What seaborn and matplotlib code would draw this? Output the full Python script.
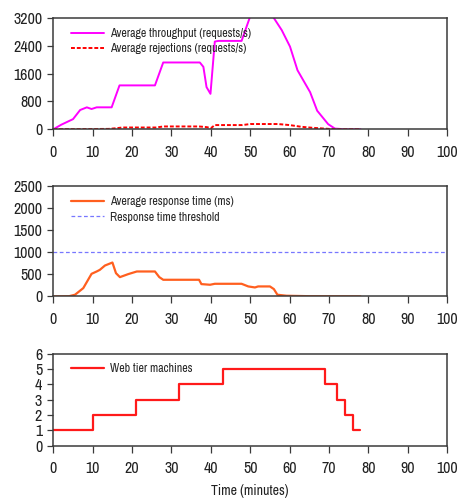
import numpy as np
import pandas as pd
import matplotlib
matplotlib.use("Agg")
import matplotlib.pyplot as plt
import seaborn as sns

# ---- data ----
thr_t = [0, 2, 5, 6.8, 8.5, 9.7, 11, 14.8, 16.8, 25.8, 27.9, 37.2, 38.1, 38.9, 39.9,
         41, 41.9, 47.8, 50, 53, 55.7, 58, 60.1, 62, 65.2, 67, 69.8, 71.5, 74, 78]
thr_v = [0, 130, 291, 553, 630, 582, 630, 630, 1261, 1261, 1920, 1920, 1794, 1212, 1018,
         2521, 2540, 2540, 3250, 3550, 3250, 2850, 2376, 1697, 1067, 533, 145, 19, 0, 0]

rej_t = [0, 14, 16, 17.5, 26, 28, 37, 39, 40, 41, 48, 50, 57, 60, 63, 66, 70, 72, 78]
rej_v = [0, 10, 30, 50, 50, 80, 80, 60, 30, 120, 120, 150, 150, 120, 70, 40, 10, 0, 0]

rt_t = [0, 4, 5.5, 7.6, 9.7, 11, 11.8, 13.1, 15, 15.9, 16.9, 19, 21.2, 25.8, 26.9, 27.9,
        37, 37.6, 39.8, 41, 47.8, 49.5, 51.2, 52, 55, 56, 56.9, 59.2, 65, 78]
rt_v = [0, 5, 38, 188, 512, 565, 602, 700, 768, 527, 437, 505, 565, 565, 437, 377,
        377, 279, 264, 286, 286, 226, 203, 226, 226, 166, 38, 15, 5, 0]
rt_threshold = 1000

web_t = [0, 10, 21, 32, 43, 69, 72, 74, 76, 78]
web_v = [1, 2, 3, 4, 5, 4, 3, 2, 1, 1]

x_ticks = list(range(0, 101, 10))
y1_ticks = [0, 800, 1600, 2400, 3200]
y2_ticks = [0, 500, 1000, 1500, 2000, 2500]
y3_ticks = [0, 1, 2, 3, 4, 5, 6]

# ---- style ----
sns.set_style("ticks")
plt.rcParams['font.family'] = ['Archivo Narrow', 'Liberation Sans', 'DejaVu Sans']
plt.rcParams['font.size'] = 11
plt.rcParams['axes.edgecolor'] = '#3a3a3a'
plt.rcParams['axes.linewidth'] = 1.1
plt.rcParams['xtick.color'] = '#3a3a3a'
plt.rcParams['ytick.color'] = '#3a3a3a'
plt.rcParams['xtick.labelcolor'] = '#222222'
plt.rcParams['ytick.labelcolor'] = '#222222'

fig = plt.figure(figsize=(4.6, 4.99), dpi=100)
left, width = 0.116, 0.856
ax1 = fig.add_axes([left, 0.741, width, 0.223])
ax2 = fig.add_axes([left, 0.406, width, 0.221])
ax3 = fig.add_axes([left, 0.107, width, 0.184])

# top panel
df_thr = pd.DataFrame({"t": thr_t, "v": thr_v})
df_rej = pd.DataFrame({"t": rej_t, "v": rej_v})
sns.lineplot(data=df_thr, x="t", y="v", ax=ax1, color="#ff00ff", lw=1.4,
             label="Average throughput (requests/s)")
sns.lineplot(data=df_rej, x="t", y="v", ax=ax1, color="#ff0000", lw=1.4,
             linestyle=(0, (2, 1)), label="Average rejections (requests/s)")
ax1.set_ylim(0, 3200)
ax1.set_yticks(y1_ticks)

# middle panel
df_rt = pd.DataFrame({"t": rt_t, "v": rt_v})
sns.lineplot(data=df_rt, x="t", y="v", ax=ax2, color="#ff5f1f", lw=1.6,
             label="Average response time (ms)")
ax2.axhline(rt_threshold, color="#7777ff", lw=0.9, linestyle=(0, (3, 2)),
            label="Response time threshold")
ax2.set_ylim(0, 2500)
ax2.set_yticks(y2_ticks)

# bottom panel
df_web = pd.DataFrame({"t": web_t, "v": web_v})
sns.lineplot(data=df_web, x="t", y="v", ax=ax3, color="#ff1a1a", lw=1.6,
             drawstyle="steps-post", label="Web tier machines")
ax3.set_ylim(0, 6)
ax3.set_yticks(y3_ticks)
ax3.set_xlabel("Time (minutes)", fontsize=10, labelpad=6, color="#222222")

for ax in (ax1, ax2, ax3):
    ax.set_xlim(0, 100)
    ax.set_xticks(x_ticks)
    ax.set_ylabel("")
    if ax is not ax3:
        ax.set_xlabel("")
    for s in ax.spines.values():
        s.set_visible(True)
    ax.tick_params(direction="out", width=0.9, labelsize=11.5)
    ax.tick_params(axis="x", length=5, pad=6)
    ax.tick_params(axis="y", length=4, pad=4)
    ax.legend(loc="upper left", frameon=False, fontsize=8.6, handlelength=2.75,
              handletextpad=0.5, borderaxespad=0.0, labelspacing=0.35,
              bbox_to_anchor=(0.032, 0.95))

fig.savefig("out.png", dpi=100)
